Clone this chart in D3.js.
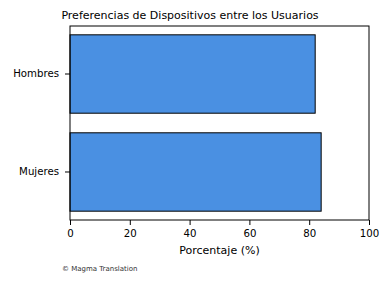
<!DOCTYPE html>
<html>
<head>
<meta charset="utf-8">
<script src="https://cdn.jsdelivr.net/npm/d3@7"></script>
<style>
  body { margin: 0; background: #fff; }
  svg { font-family: "DejaVu Sans", sans-serif; }
</style>
</head>
<body>
<script>
// data
var categories = ["Hombres", "Mujeres"];
var values = [82, 84];
var xTicks = [0, 20, 40, 60, 80, 100];

var width = 390, height = 282;
var margin = {top: 26, right: 21, bottom: 62, left: 70};
var plotW = width - margin.left - margin.right;
var plotH = height - margin.top - margin.bottom;

var svg = d3.select("body").append("svg")
    .attr("width", width)
    .attr("height", height);

var g = svg.append("g")
    .attr("transform", "translate(" + margin.left + "," + margin.top + ")");

var x = d3.scaleLinear().domain([0, 100]).range([0, plotW]);
var y = d3.scaleBand().domain(categories).range([0, plotH])
    .paddingInner(0.2).paddingOuter(0.09).align(0.5);

// bars
g.selectAll("rect.bar").data(categories).enter().append("rect")
    .attr("class", "bar")
    .attr("x", x(0))
    .attr("y", function(d){ return y(d); })
    .attr("width", function(d, i){ return x(values[i]) - x(0); })
    .attr("height", y.bandwidth())
    .attr("fill", "#4a90e2")
    .attr("stroke", "#000")
    .attr("stroke-width", 1);

// frame
g.append("rect")
    .attr("width", plotW).attr("height", plotH)
    .attr("fill", "none").attr("stroke", "#000").attr("stroke-width", 1);

// x axis
var xAxis = g.append("g")
    .attr("transform", "translate(0," + plotH + ")")
    .call(d3.axisBottom(x).tickValues(xTicks).tickSize(5).tickPadding(4.5));
xAxis.select(".domain").remove();
xAxis.selectAll("text").attr("font-size", 10.2).attr("fill", "#000")
    .attr("font-family", "DejaVu Sans");

// y axis
var yAxis = g.append("g")
    .call(d3.axisLeft(y).tickSize(5).tickPadding(6));
yAxis.select(".domain").remove();
yAxis.selectAll("text").attr("font-size", 10.2).attr("fill", "#000")
    .attr("font-family", "DejaVu Sans");

// title & labels
svg.append("text")
    .attr("x", 190).attr("y", 19)
    .attr("text-anchor", "middle").attr("font-size", 11)
    .text("Preferencias de Dispositivos entre los Usuarios");

svg.append("text")
    .attr("x", margin.left + plotW / 2).attr("y", 254)
    .attr("text-anchor", "middle").attr("font-size", 11)
    .text("Porcentaje (%)");

svg.append("text")
    .attr("x", 62).attr("y", 271)
    .attr("font-size", 7).attr("fill", "#333")
    .text("© Magma Translation");
</script>
</body>
</html>
